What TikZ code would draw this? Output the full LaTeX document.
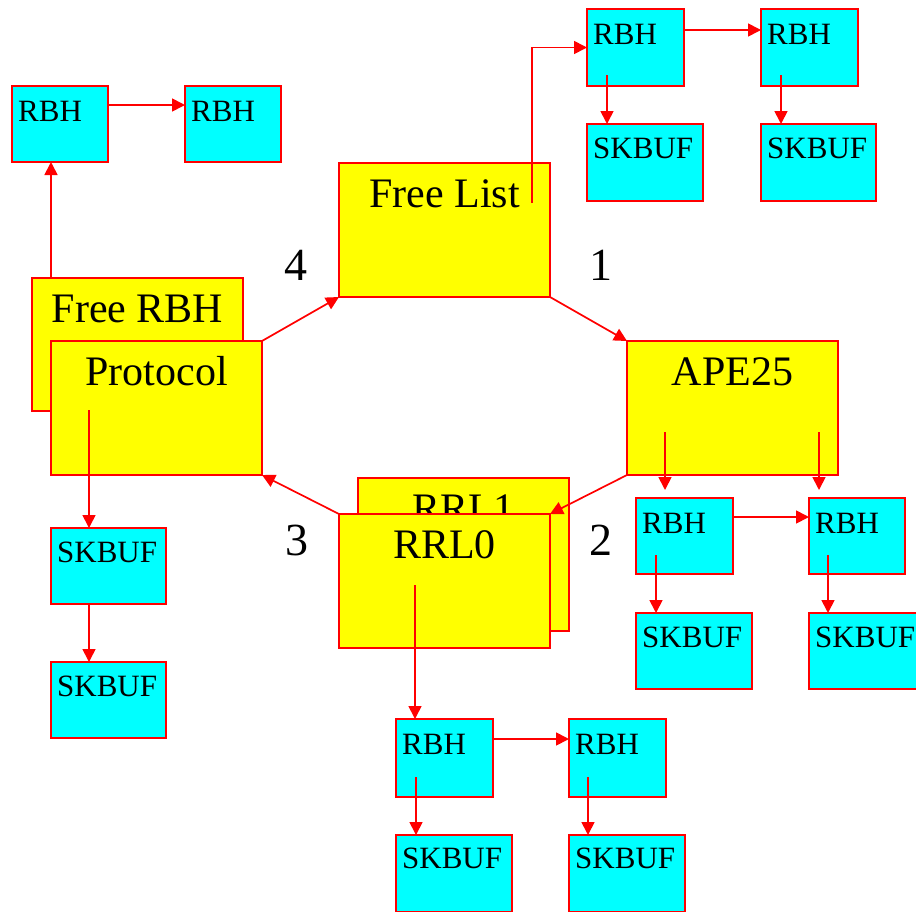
\documentclass[tikz,border=0pt]{standalone}
\usepackage{fontspec}
\setmainfont{Liberation Serif}
\usetikzlibrary{arrows.meta}
\definecolor{boxyellow}{RGB}{255,255,0}
\definecolor{boxcyan}{RGB}{0,255,255}
\definecolor{linered}{RGB}{255,0,0}
\begin{document}
\begin{tikzpicture}[x=1pt,y=-1pt,
  box/.style={draw=linered, line width=1.8pt, anchor=north west, inner sep=0pt, outer sep=0pt},
  ybox/.style={box, fill=boxyellow, minimum width=211pt, minimum height=134pt},
  cbox/.style={box, fill=boxcyan, minimum width=97pt, minimum height=77pt},
  sbox/.style={box, fill=boxcyan, minimum width=116pt, minimum height=77pt},
  big/.style={font=\fontsize{42}{42}\selectfont, anchor=base, inner sep=0pt},
  small/.style={font=\fontsize{31}{31}\selectfont, anchor=base west, inner sep=0pt},
  num/.style={font=\fontsize{46}{46}\selectfont, anchor=base, inner sep=0pt},
  arr/.style={draw=linered, line width=1.7pt, -{Triangle[length=13pt,width=13pt]}},
]
\useasboundingbox (0,0) rectangle (916,911);

% yellow boxes
\node[ybox] (fl) at (339,163) {};
\node[big] (flt) at ([yshift=-44pt]fl.north) {Free List};
\node[ybox] (ape) at (627,341) {};
\node[big] (apet) at ([yshift=-44pt]ape.north) {APE25};
\node[ybox, minimum height=133pt] (frbh) at (32,278) {};
\node[big] (frbht) at ([yshift=-44pt]frbh.north) {Free RBH};
\node[ybox] (proto) at (51,341) {};
\node[big] (protot) at ([yshift=-44pt]proto.north) {Protocol};
\node[ybox, minimum height=153pt] (rrl1) at (358,478) {};
\node[big] (rrl1t) at ([yshift=-44pt]rrl1.north) {RRL1};
\node[ybox] (rrl0) at (339,514) {};
\node[big] (rrl0t) at ([yshift=-44pt]rrl0.north) {RRL0};

% cyan boxes
\node[cbox] (r1) at (587,9) {};
\node[small] (r1t) at ([xshift=6pt,yshift=-35pt]r1.north west) {RBH};
\node[cbox] (r2) at (761,9) {};
\node[small] (r2t) at ([xshift=6pt,yshift=-35pt]r2.north west) {RBH};
\node[sbox] (s1) at (587,124) {};
\node[small] (s1t) at ([xshift=6pt,yshift=-34pt]s1.north west) {SKBUF};
\node[sbox, minimum width=115pt] (s2) at (761,124) {};
\node[small] (s2t) at ([xshift=6pt,yshift=-34pt]s2.north west) {SKBUF};

\node[cbox, minimum width=96pt, minimum height=76pt] (r3) at (12,86) {};
\node[small] (r3t) at ([xshift=6pt,yshift=-35pt]r3.north west) {RBH};
\node[cbox, minimum width=96pt, minimum height=76pt] (r4) at (185,86) {};
\node[small] (r4t) at ([xshift=6pt,yshift=-35pt]r4.north west) {RBH};

\node[sbox, minimum width=115pt, minimum height=76pt] (s3) at (51,528) {};
\node[small] (s3t) at ([xshift=6pt,yshift=-34pt]s3.north west) {SKBUF};
\node[sbox, minimum width=115pt, minimum height=76pt] (s4) at (51,662) {};
\node[small] (s4t) at ([xshift=6pt,yshift=-34pt]s4.north west) {SKBUF};

\node[cbox, minimum height=76pt] (r5) at (636,498) {};
\node[small] (r5t) at ([xshift=6pt,yshift=-35pt]r5.north west) {RBH};
\node[cbox, minimum width=96pt, minimum height=76pt] (r6) at (809,498) {};
\node[small] (r6t) at ([xshift=6pt,yshift=-35pt]r6.north west) {RBH};
\node[sbox, minimum height=76pt] (s5) at (636,613) {};
\node[small] (s5t) at ([xshift=6pt,yshift=-34pt]s5.north west) {SKBUF};
\node[sbox, minimum height=76pt] (s6) at (809,613) {};
\node[small] (s6t) at ([xshift=6pt,yshift=-34pt]s6.north west) {SKBUF};

\node[cbox, minimum height=78pt] (r7) at (396,719) {};
\node[small] (r7t) at ([xshift=6pt,yshift=-35pt]r7.north west) {RBH};
\node[cbox, minimum height=78pt] (r8) at (569,719) {};
\node[small] (r8t) at ([xshift=6pt,yshift=-35pt]r8.north west) {RBH};
\node[sbox] (s7) at (396,835) {};
\node[small] (s7t) at ([xshift=6pt,yshift=-33pt]s7.north west) {SKBUF};
\node[sbox] (s8) at (569,835) {};
\node[small] (s8t) at ([xshift=6pt,yshift=-33pt]s8.north west) {SKBUF};

% numbers
\node[num] (n4) at (296,280) {4};
\node[num] (n1) at (601,280) {1};
\node[num] (n3) at (297,555) {3};
\node[num] (n2) at (601,555) {2};

% arrows: cycle
\draw[arr] (proto.north east) -- (fl.south west);
\draw[arr] (fl.south east) -- (ape.north west);
\draw[arr] (ape.south west) -- (rrl0.north east);
\draw[arr] (rrl0.north west) -- (proto.south east);

% free list chain
\coordinate (fls) at ([xshift=-18pt,yshift=-40pt]fl.north east);
\draw[arr] (fls) |- (r1.west);
\draw[arr] ([yshift=17.5pt]r1.east) -- ([yshift=17.5pt]r2.west);
\draw[arr] ([xshift=20pt,yshift=11pt]r1.south west) -- ([xshift=20pt]s1.north west);
\draw[arr] ([xshift=20pt,yshift=11pt]r2.south west) -- ([xshift=20pt]s2.north west);

% free RBH chain
\draw[arr] ([xshift=19pt]frbh.north west) -- ([xshift=39pt]r3.south west);
\draw[arr] ([yshift=19pt]r3.east) -- ([yshift=19pt]r4.west);

% protocol chain
\draw[arr] ([xshift=38pt,yshift=-69pt]proto.north west) -- ([xshift=38pt]s3.north west);
\draw[arr] ([xshift=38pt]s3.south west) -- ([xshift=38pt]s4.north west);

% APE25 chain
\draw[arr] ([xshift=38pt,yshift=-91pt]ape.north west) -- ([xshift=29pt,yshift=8pt]r5.north west);
\draw[arr] ([xshift=192pt,yshift=-91pt]ape.north west) -- ([xshift=10pt,yshift=8pt]r6.north west);
\draw[arr] ([yshift=19pt]r5.east) -- ([yshift=19pt]r6.west);
\draw[arr] ([xshift=20pt,yshift=-57pt]r5.north west) -- ([xshift=20pt]s5.north west);
\draw[arr] ([xshift=19pt,yshift=-57pt]r6.north west) -- ([xshift=19pt]s6.north west);

% RRL0 chain
\draw[arr] ([xshift=76pt,yshift=-71pt]rrl0.north west) -- ([xshift=19pt]r7.north west);
\draw[arr] ([yshift=19pt]r7.east) -- ([yshift=19pt]r8.west);
\draw[arr] ([xshift=20pt,yshift=-58pt]r7.north west) -- ([xshift=20pt]s7.north west);
\draw[arr] ([xshift=19pt,yshift=-58pt]r8.north west) -- ([xshift=19pt]s8.north west);
\end{tikzpicture}
\end{document}
